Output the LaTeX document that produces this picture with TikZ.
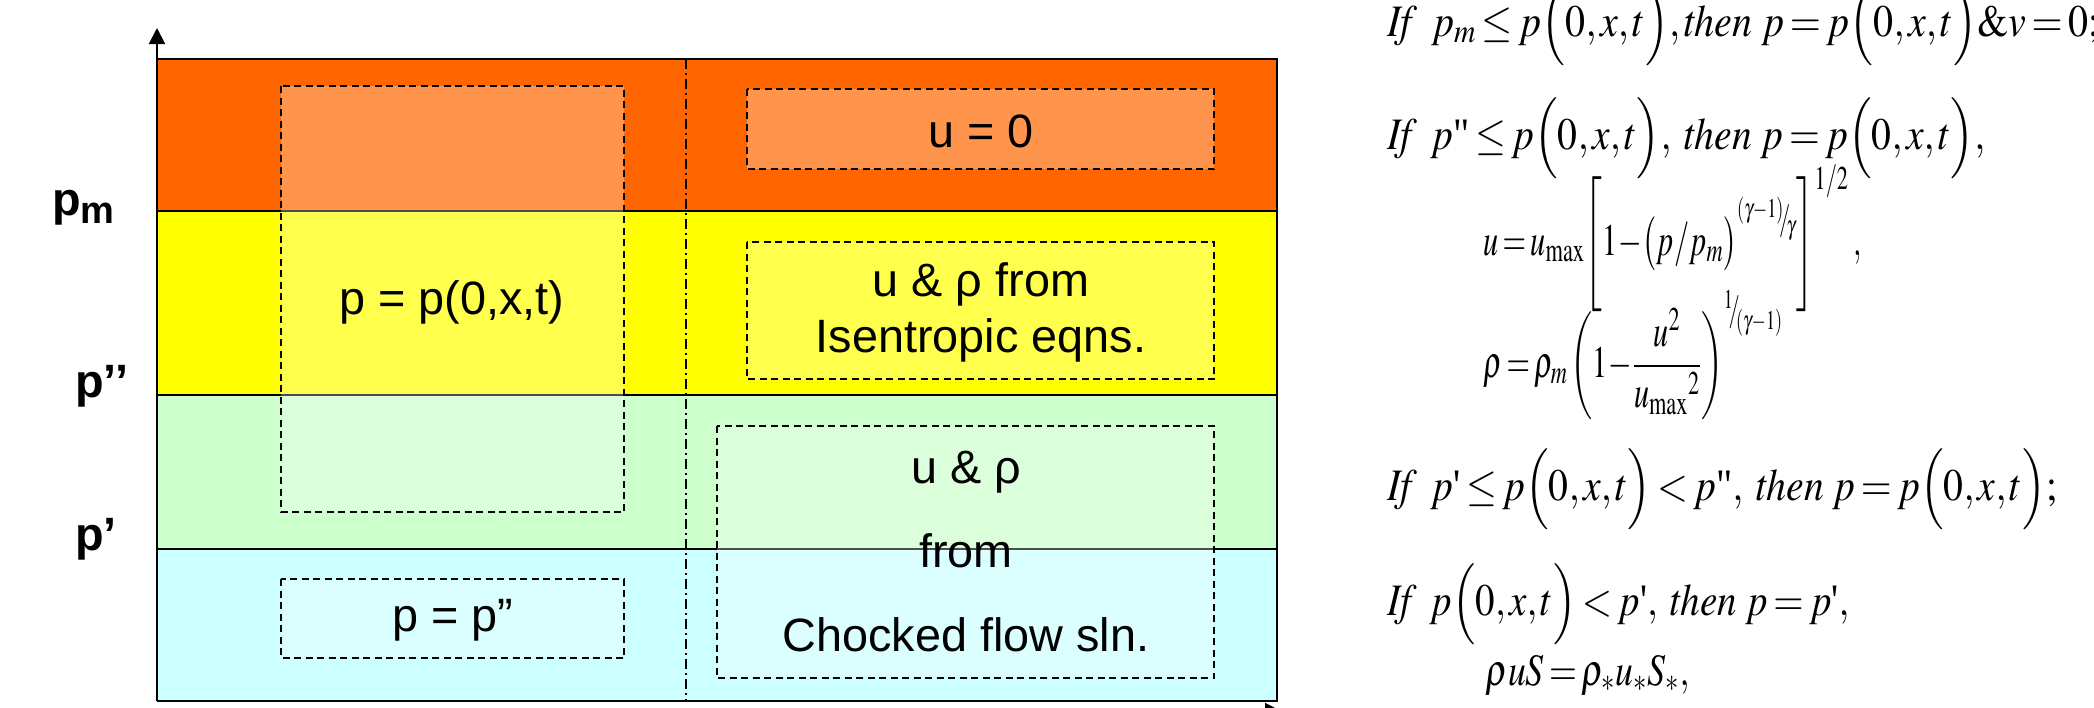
\documentclass[tikz,border=0pt]{standalone}
\usepackage{graphicx}
\usepackage{amsmath}
\usepackage{mathptmx}
\usepackage[no-math]{fontspec}
\setmainfont{Liberation Serif}
\newfontfamily\arial{Liberation Sans}
\usetikzlibrary{arrows.meta}

\definecolor{bandorange}{HTML}{FF6600}
\definecolor{bandyellow}{HTML}{FFFF00}
\definecolor{bandgreen}{HTML}{CCFFCC}
\definecolor{bandcyan}{HTML}{CCFFFF}

% straight tick marks used after p in the conditions
\newcommand\onetick{\text{\textquotesingle}}
\newcommand\twotick{\text{\textquotedbl}}
% slanted fraction used in exponents
\newcommand\slantfrac[2]{{}^{#1}\mkern-4mu/\mkern-3mu{}_{#2}}
% tight equation-editor style spacing
\newcommand\eqsetup{\fontsize{22.5}{27}\selectfont
  \thickmuskip=2.5mu\medmuskip=1.5mu\thinmuskip=1.5mu}
\newcommand\gapif{\mskip6mu}
\newcommand\gapword{\mskip4mu}
% one formula line set to a given width, natural height kept
\newcommand\eqline[2]{\resizebox{#1}{\height}{$#2$}}

\begin{document}
\begin{tikzpicture}[x=0.5pt,y=-0.5pt,
  sep/.style={draw=black,line width=1pt},
  axis/.style={line width=1pt,-{Triangle[width=8pt,length=8pt]}},
  midline/.style={draw=black,line width=0.75pt,dash pattern=on 5pt off 2pt on 1pt off 2pt},
  zone/.style={draw=black,line width=0.8pt,dash pattern=on 3.5pt off 2.25pt,
               fill=white,fill opacity=0.3},
  lbl/.style={font=\arial\fontsize{23.4}{28}\selectfont,align=center,inner sep=0pt},
  axlbl/.style={font=\arial\bfseries\fontsize{23.4}{28}\selectfont,inner sep=0pt,anchor=base west},
  eq/.style={font=\eqsetup,inner sep=0pt,anchor=base west}]

\useasboundingbox (0,0) rectangle (2094,707);
\fill[white] (0,0) rectangle (2094,707);

% pressure bands
\fill[bandorange] (157,59)  rectangle (1277,211);
\fill[bandyellow] (157,211) rectangle (1277,395);
\fill[bandgreen]  (157,395) rectangle (1277,549);
\fill[bandcyan]   (157,549) rectangle (1277,701);

\draw[sep] (157,59) -- (1277,59) -- (1277,701) -- (157,701);
\draw[sep] (157,211) -- (1277,211);
\draw[sep] (157,395) -- (1277,395);
\draw[sep] (157,549) -- (1277,549);

% centre line
\draw[midline] (686,59) -- (686,701);

% dashed zones
\path[zone] (281,86)  rectangle (624,512);
\path[zone] (281,579) rectangle (624,658);
\path[zone] (747,89)  rectangle (1214,169);
\path[zone] (747,242) rectangle (1214,379);
\path[zone] (717,426) rectangle (1214,678);

% zone texts
\node[lbl] (pzero)  at (452,302) {p = p(0,x,t)};
\node[lbl] (pdbl)   at (453,620) {p = p”};
\node[lbl] (uzero)  at (981,131) {u = 0};
\node[lbl] (isen)   at (981,312) {u \& ρ from\\Isentropic eqns.};
\node[lbl,font=\arial\fontsize{23.4}{42}\selectfont] (choke) at (966,552)
      {u \& ρ\\from\\Chocked flow sln.};

% axes
\draw[axis] (157,701) -- (157,28);
\draw[axis] (157,711) -- (1281,711);

% pressure levels
\node[axlbl] (pm)  at (52,215) {p\raisebox{-4pt}{\fontsize{19}{20}\selectfont m}};
\node[axlbl] (pdd) at (75,397) {p’’};
\node[axlbl] (pd)  at (75,550) {p’};

% conditions
\node[eq] (c1) at (1387,36)
  {\eqline{356pt}{\mathit{If}\gapif p_m \le p\Bigl(0,x,t\Bigr),\mathit{then}\gapword p = p\Bigl(0,x,t\Bigr)\&v = 0;}};
\node[eq] (c2) at (1387,149)
  {\eqline{299pt}{\mathit{If}\gapif p\twotick \le p\Bigl(0,x,t\Bigr),\gapword\mathit{then}\gapword p = p\Bigl(0,x,t\Bigr),}};
\node[eq] (c3) at (1483,255)
  {\eqline{189pt}{\medmuskip=0.5mu u = u_{\max}\Biggl[1-\bigl(p/p_m\bigr)^{\slantfrac{(\gamma-1)}{\gamma}}\Biggr]^{1/2}\;,}};
\node[eq] (c4) at (1483,377)
  {\eqline{150pt}{\medmuskip=0.5mu \rho = \rho_m\left(1-\dfrac{u^2}{u_{\max}{}^2}\right)^{\slantfrac{1}{(\gamma-1)}}}};
\node[eq] (c5) at (1387,500)
  {\eqline{335pt}{\mathit{If}\gapif p\onetick \le p\Bigl(0,x,t\Bigr) < p\twotick,\gapword\mathit{then}\gapword p = p\Bigl(0,x,t\Bigr);}};
\node[eq] (c6) at (1387,615)
  {\eqline{231pt}{\mathit{If}\gapif p\Bigl(0,x,t\Bigr) < p\onetick,\gapword\mathit{then}\gapword p = p\onetick,}};
\node[eq] (c7) at (1485,685)
  {\eqline{102pt}{\rho u S = \rho_* u_* S_*,}};
\end{tikzpicture}
\end{document}
